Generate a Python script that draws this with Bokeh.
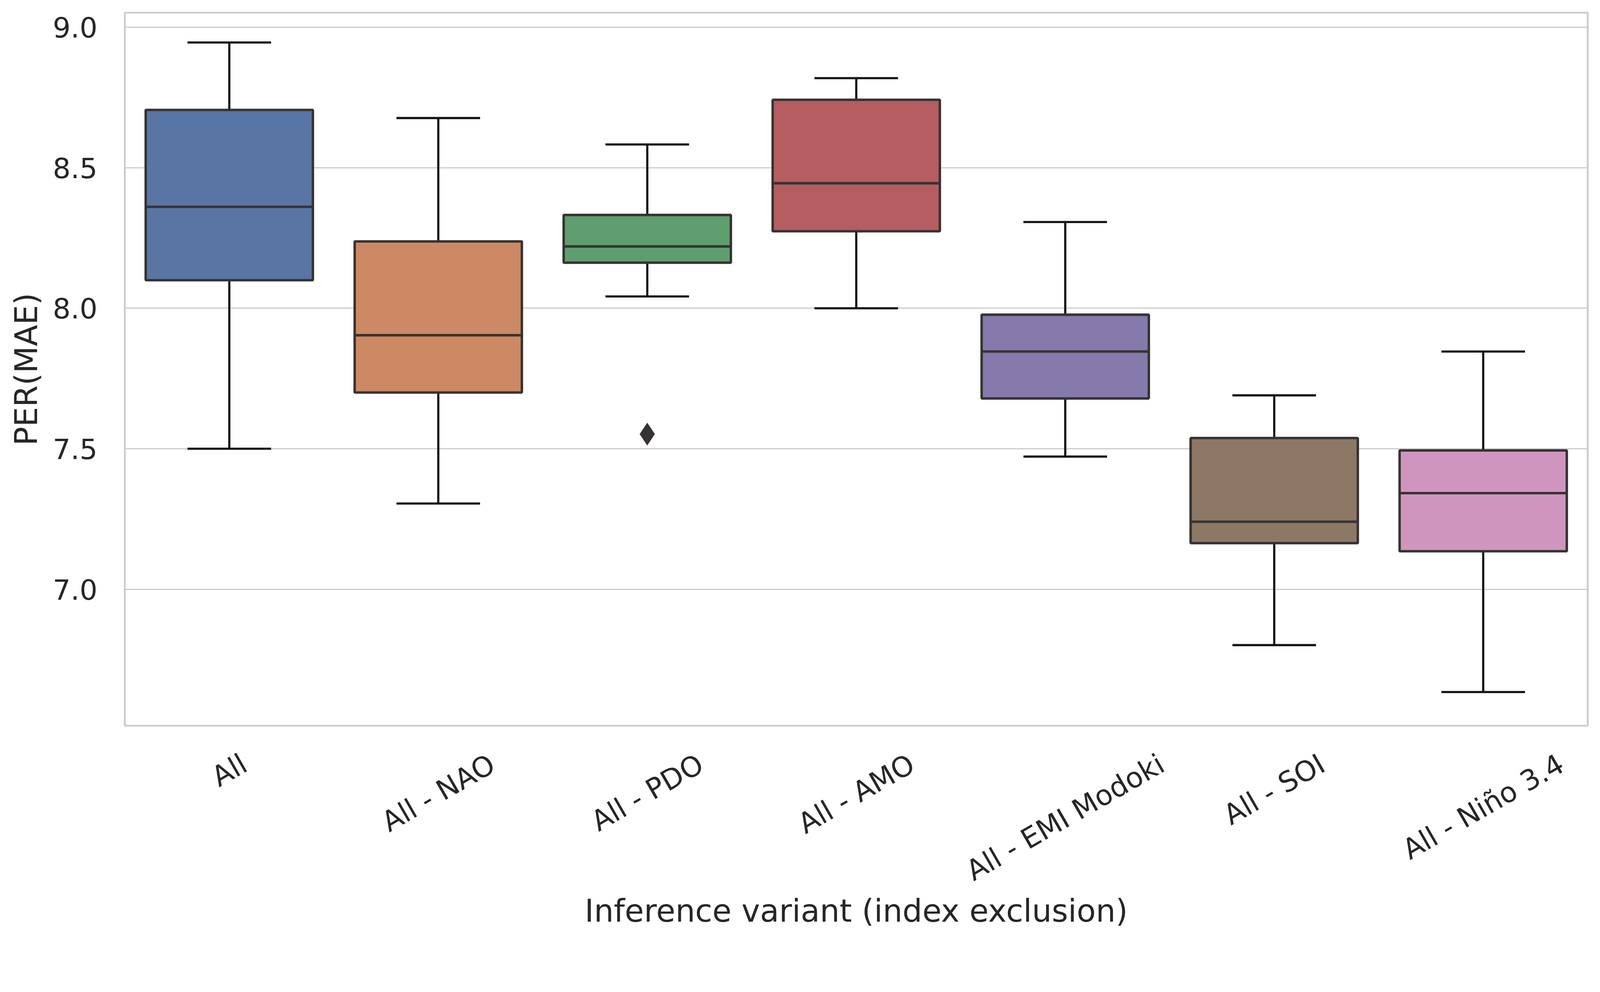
import math
from bokeh.plotting import figure
from bokeh.layouts import column
from bokeh.models import Range1d, FixedTicker, ColumnDataSource
from bokeh.core.properties import value
from bokeh.embed import file_html
from bokeh.resources import INLINE

variants = ["All", "All - NAO", "All - PDO", "All - AMO", "All - EMI Modoki", "All - SOI", "All - Niño 3.4"]
whisker_low = [7.50, 7.305, 8.042, 8.00, 7.472, 6.801, 6.634]
q1 = [8.10, 7.70, 8.162, 8.274, 7.679, 7.164, 7.135]
median = [8.361, 7.904, 8.22, 8.445, 7.846, 7.24, 7.342]
q3 = [8.706, 8.238, 8.332, 8.742, 7.977, 7.538, 7.494]
whisker_high = [8.946, 8.677, 8.583, 8.819, 8.307, 7.69, 7.846]
outlier_variant = ["All - PDO"]
outlier_value = [7.552]
colors = ["#5975a4", "#cc8963", "#5f9e6e", "#b55d60", "#857aab", "#8d7866", "#d095bf"]
y_ticks = [7.0, 7.5, 8.0, 8.5, 9.0]

FONT = "DejaVu Sans"
TXT = "#262626"
EDGE = "#363332"
WH = "#141414"
TICK_PX = 72
LABEL_PX = 80
Y0, Y1 = 6.514, 9.052
FRAME_W, FRAME_H = 3745, 1825
LEFT, RIGHT = 319, 12
LAB_H = 410

# DejaVu Sans advance widths (em) for centring the rotated tick labels like matplotlib
ADV = {"A": .684, "l": .278, " ": .318, "-": .361, "N": .748, "O": .787, "P": .603,
       "D": .770, "M": .863, "E": .632, "I": .295, "o": .612, "d": .635, "k": .579,
       "S": .635, "i": .278, "ñ": .634, "3": .636, ".": .318, "4": .636}

pos = list(range(len(variants)))
src = ColumnDataSource(dict(
    x=pos,
    xl=[p - 0.4 for p in pos], xr=[p + 0.4 for p in pos],
    cl=[p - 0.2 for p in pos], cr=[p + 0.2 for p in pos],
    lo=whisker_low, q1=q1, med=median, q3=q3, hi=whisker_high, color=colors,
))

xr = Range1d(-0.5, 6.5)
p = figure(frame_width=FRAME_W, frame_height=FRAME_H, output_backend="svg", toolbar_location=None,
           x_range=xr, y_range=Range1d(Y0, Y1),
           min_border_left=LEFT, min_border_right=RIGHT, min_border_top=32, min_border_bottom=4)

p.background_fill_color = "white"
p.border_fill_color = "white"
p.outline_line_color = "#cccccc"
p.outline_line_width = 4.7

p.segment(x0="x", y0="q3", x1="x", y1="hi", source=src, line_color=WH, line_width=5.6)
p.segment(x0="x", y0="q1", x1="x", y1="lo", source=src, line_color=WH, line_width=5.6)
p.segment(x0="cl", y0="hi", x1="cr", y1="hi", source=src, line_color=WH, line_width=5.6)
p.segment(x0="cl", y0="lo", x1="cr", y1="lo", source=src, line_color=WH, line_width=5.6)
p.vbar(x="x", width=0.8, bottom="q1", top="q3", source=src, fill_color="color",
       line_color=EDGE, line_width=6.3)
p.segment(x0="xl", y0="med", x1="xr", y1="med", source=src, line_color=EDGE, line_width=6.3)
out_x = [variants.index(v) for v in outlier_variant]
p.scatter(x=out_x, y=outlier_value, marker="diamond", size=57, fill_color=EDGE, line_color=EDGE)

p.xgrid.grid_line_color = None
p.ygrid.grid_line_color = "#cccccc"
p.ygrid.grid_line_width = 2.8
p.xaxis.visible = False

yax = p.yaxis[0]
yax.ticker = FixedTicker(ticks=y_ticks)
yax.major_label_overrides = {t: f"{t:.1f}" for t in y_ticks}
yax.axis_line_color = None
yax.major_tick_line_color = None
yax.minor_tick_line_color = None
yax.major_tick_out = 0
yax.major_tick_in = 0
yax.minor_tick_out = 0
yax.minor_tick_in = 0
yax.major_label_text_font = FONT
yax.major_label_text_font_size = f"{TICK_PX}px"
yax.major_label_text_color = TXT
yax.major_label_standoff = 70
yax.axis_label = "PER(MAE)"
yax.axis_label_text_font = FONT
yax.axis_label_text_font_size = f"{LABEL_PX}px"
yax.axis_label_text_color = TXT
yax.axis_label_text_font_style = "normal"
yax.axis_label_standoff = 18

# strip under the plot: rotated category labels (centred on each tick) and the x-axis title
lab = figure(frame_width=FRAME_W, frame_height=LAB_H, output_backend="svg", toolbar_location=None,
             x_range=xr, y_range=Range1d(-LAB_H, 0),
             min_border_left=LEFT, min_border_right=RIGHT, min_border_top=0, min_border_bottom=100)
lab.outline_line_color = None
lab.background_fill_color = "white"
lab.border_fill_color = "white"
lab.grid.grid_line_color = None
lab.yaxis.visible = False
xax = lab.xaxis[0]
xax.ticker = FixedTicker(ticks=[])
xax.axis_line_color = None
xax.major_tick_out = 0
xax.major_tick_in = 0
xax.minor_tick_out = 0
xax.minor_tick_in = 0
xax.major_label_standoff = 0
xax.axis_label = "Inference variant (index exclusion)"
xax.axis_label_text_font = FONT
xax.axis_label_text_font_size = f"{LABEL_PX}px"
xax.axis_label_text_color = TXT
xax.axis_label_text_font_style = "normal"
xax.axis_label_standoff = 13

ang = math.pi / 6
gap = 64
lab_y = []
for v in variants:
    w = sum(ADV.get(c, 0.6) for c in v) * TICK_PX
    hbox = w * math.sin(ang) + 0.76 * TICK_PX * math.cos(ang)
    lab_y.append(-(gap + hbox / 2))
lab.text(x=pos, y=lab_y, text=variants, angle=ang, text_align="center", text_baseline="middle",
         text_font=value(FONT), text_font_size=value(f"{TICK_PX}px"), text_color=TXT)

layout = column(p, lab, spacing=0)
open("out.html", "w").write(file_html(layout, INLINE))
